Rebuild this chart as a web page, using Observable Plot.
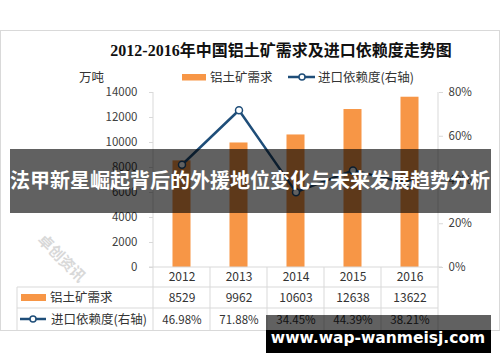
<!DOCTYPE html>
<html>
<head>
<meta charset="utf-8">
<script src="https://cdn.jsdelivr.net/npm/d3@7"></script>
<script src="https://cdn.jsdelivr.net/npm/@observablehq/plot@0.6"></script>
<style>
  html, body { margin: 0; padding: 0; background: #fff; }
  #chart { width: 500px; height: 362px; overflow: hidden; }
</style>
</head>
<body>
<div id="chart"></div>
<script>
// ---- data ----
const years = ["2012", "2013", "2014", "2015", "2016"];
const demand = [8529, 9962, 10603, 12638, 13622];          // 万吨
const dependence = [46.98, 71.88, 34.45, 44.39, 38.21];    // %
const leftTicks = [0, 2000, 4000, 6000, 8000, 10000, 12000, 14000];
const rightTicks = [0, 20, 40, 60, 80];
const seriesNames = ["铝土矿需求", "进口依赖度(右轴)"];
const unitLabel = "万吨";
const titleText = "2012-2016年中国铝土矿需求及进口依赖度走势图";
const bannerText = "法甲新星崛起背后的外援地位变化与未来发展趋势分析";
const siteText = "www.wap-wanmeisj.com";
const logoText = "卓创资讯";
const yMax = 14000, rMax = 80;

const barColor = "#f79646";
const lineColor = "#1f4e79";
const gridColor = "#d9d9d9";
const textColor = "#404040";
const font = "'Noto Sans CJK SC', 'Noto Sans', sans-serif";

const data = years.map((y, i) => ({year: y, demand: demand[i], dep: dependence[i]}));
const toLeft = (p) => p / rMax * yMax;

const chart = Plot.plot({
  width: 500,
  height: 362,
  marginLeft: 153,
  marginRight: 62,
  marginTop: 92,
  marginBottom: 95,
  style: {fontFamily: font, fontSize: "11.5px", color: textColor, background: "transparent", overflow: "visible"},
  x: {type: "band", domain: years, paddingInner: 0.684, paddingOuter: 0.342, round: false, axis: null},
  y: {domain: [0, yMax], axis: null},
  marks: [
    Plot.axisY({ticks: leftTicks, tickSize: 4, tickPadding: 12, tickFormat: d => String(d), label: null,
      stroke: gridColor, fill: textColor, fontSize: 11.5}),
    Plot.axisY({anchor: "right", ticks: rightTicks.map(toLeft), tickSize: 4, tickPadding: 6, label: null,
      tickFormat: d => Math.round(d / yMax * rMax) + "%", stroke: gridColor, fill: textColor, fontSize: 11.5}),
    Plot.barY(data, {x: "year", y: "demand", fill: barColor}),
    Plot.line(data, {x: "year", y: d => toLeft(d.dep), stroke: lineColor, strokeWidth: 2.5}),
    Plot.dot(data, {x: "year", y: d => toLeft(d.dep), r: 3.5, fill: "white", stroke: lineColor, strokeWidth: 1.5}),
    // data table rows below the axis
    Plot.text(data, {x: "year", text: "year", frameAnchor: "bottom", lineAnchor: "middle", dy: 10, fill: "#333", fontSize: 12}),
    Plot.text(data, {x: "year", text: d => String(d.demand), frameAnchor: "bottom", lineAnchor: "middle", dy: 31, fill: "#333", fontSize: 12}),
    Plot.text(data, {x: "year", text: d => d.dep.toFixed(2) + "%", frameAnchor: "bottom", lineAnchor: "middle", dy: 53, fill: "#333", fontSize: 11.5})
  ]
});

document.getElementById("chart").appendChild(chart);

// ---- decorations derived from the scales ----
const sx = chart.scale("x");
const sy = chart.scale("y");
const step = sx.step;
const centers = years.map(y => sx.apply(y) + sx.bandwidth / 2);
const xLeft = centers[0] - step / 2;
const xRight = centers[centers.length - 1] + step / 2;
const yTop = sy.apply(yMax);
const yBase = sy.apply(0);
const row1 = yBase + 20, row2 = yBase + 41, rowEnd = yBase + 63;
const tableLeft = 17;

const svg = d3.select(chart);
// outer frame (behind everything)
svg.insert("rect", ":first-child")
  .attr("x", 0.5).attr("y", 30.5).attr("width", 499).attr("height", rowEnd - 30)
  .attr("fill", "white").attr("stroke", gridColor);

const g = svg.append("g").attr("stroke", gridColor).attr("stroke-width", 1).attr("fill", "none");
// axis lines
g.append("line").attr("x1", xLeft).attr("x2", xLeft).attr("y1", yTop).attr("y2", rowEnd);
g.append("line").attr("x1", xRight).attr("x2", xRight).attr("y1", yTop).attr("y2", rowEnd);
g.append("line").attr("x1", xLeft - 4).attr("x2", xRight + 4).attr("y1", yBase).attr("y2", yBase);
// table verticals
centers.slice(0, -1).forEach(c => {
  g.append("line").attr("x1", c + step / 2).attr("x2", c + step / 2).attr("y1", yBase).attr("y2", rowEnd);
});
g.append("line").attr("x1", tableLeft).attr("x2", tableLeft).attr("y1", row1).attr("y2", rowEnd);
[row1, row2].forEach(yy => {
  g.append("line").attr("x1", tableLeft).attr("x2", xRight).attr("y1", yy).attr("y2", yy);
});

// table row labels
const tl = svg.append("g").attr("font-family", font).attr("fill", "#333").attr("text-anchor", "start");
tl.append("rect").attr("x", 21).attr("y", (row1 + row2) / 2 - 3.5).attr("width", 25).attr("height", 7).attr("fill", barColor);
tl.append("text").attr("x", 50).attr("y", (row1 + row2) / 2).attr("dy", "0.36em").attr("font-size", 12.5).text(seriesNames[0]);
const ly = (row2 + rowEnd) / 2;
tl.append("line").attr("x1", 20).attr("x2", 46).attr("y1", ly).attr("y2", ly).attr("stroke", lineColor).attr("stroke-width", 2.5);
tl.append("circle").attr("cx", 33).attr("cy", ly).attr("r", 3).attr("fill", "white").attr("stroke", lineColor).attr("stroke-width", 1.5);
tl.append("text").attr("x", 51).attr("y", ly).attr("dy", "0.36em").attr("font-size", 12.5).text(seriesNames[1]);

// title
svg.append("text").attr("x", 281).attr("y", 50).attr("dy", "0.36em").attr("text-anchor", "middle")
  .attr("font-family", "'Liberation Serif', 'Noto Sans CJK SC', serif").attr("font-weight", "bold")
  .attr("font-size", 16).attr("fill", "#111").text(titleText);

// unit + legend
const lg = svg.append("g").attr("font-family", font).attr("font-size", 12.5).attr("fill", "#333").attr("text-anchor", "start");
lg.append("text").attr("x", 79).attr("y", 77).attr("dy", "0.36em").text(unitLabel);
lg.append("rect").attr("x", 182).attr("y", 74).attr("width", 24).attr("height", 6.5).attr("fill", barColor);
lg.append("text").attr("x", 210).attr("y", 77).attr("dy", "0.36em").text(seriesNames[0]);
lg.append("line").attr("x1", 288).attr("x2", 315).attr("y1", 77).attr("y2", 77).attr("stroke", lineColor).attr("stroke-width", 2.5);
lg.append("circle").attr("cx", 302).attr("cy", 77).attr("r", 3).attr("fill", "white").attr("stroke", lineColor).attr("stroke-width", 1.5);
lg.append("text").attr("x", 318).attr("y", 77).attr("dy", "0.36em").text(seriesNames[1]);

// faint logo watermark
svg.append("text").attr("transform", "translate(58,262) rotate(45)").attr("text-anchor", "middle")
  .attr("font-family", font).attr("font-weight", "bold").attr("font-size", 15)
  .attr("fill", "#cfcfcf").attr("opacity", 0.8).text(logoText);

// overlay banner
svg.append("rect").attr("x", 10).attr("y", 149).attr("width", 481).attr("height", 64).attr("fill", "rgba(0,0,0,0.62)");
svg.append("text").attr("x", 250).attr("y", 181).attr("dy", "0.36em").attr("text-anchor", "middle")
  .attr("font-family", font).attr("font-weight", "bold").attr("font-size", 20).attr("fill", "white").text(bannerText);

// site watermark
svg.append("rect").attr("x", 266).attr("y", 315).attr("width", 225).attr("height", rowEnd - 315).attr("fill", "rgba(0,0,0,0.62)");
svg.append("rect").attr("x", 266).attr("y", rowEnd).attr("width", 225).attr("height", 353 - rowEnd).attr("fill", "black");
svg.append("text").attr("x", 378).attr("y", 337).attr("dy", "0.36em").attr("text-anchor", "middle")
  .attr("font-family", "'DejaVu Sans', sans-serif").attr("font-weight", "bold").attr("font-size", 15.5)
  .attr("fill", "white").text(siteText);
</script>
</body>
</html>
